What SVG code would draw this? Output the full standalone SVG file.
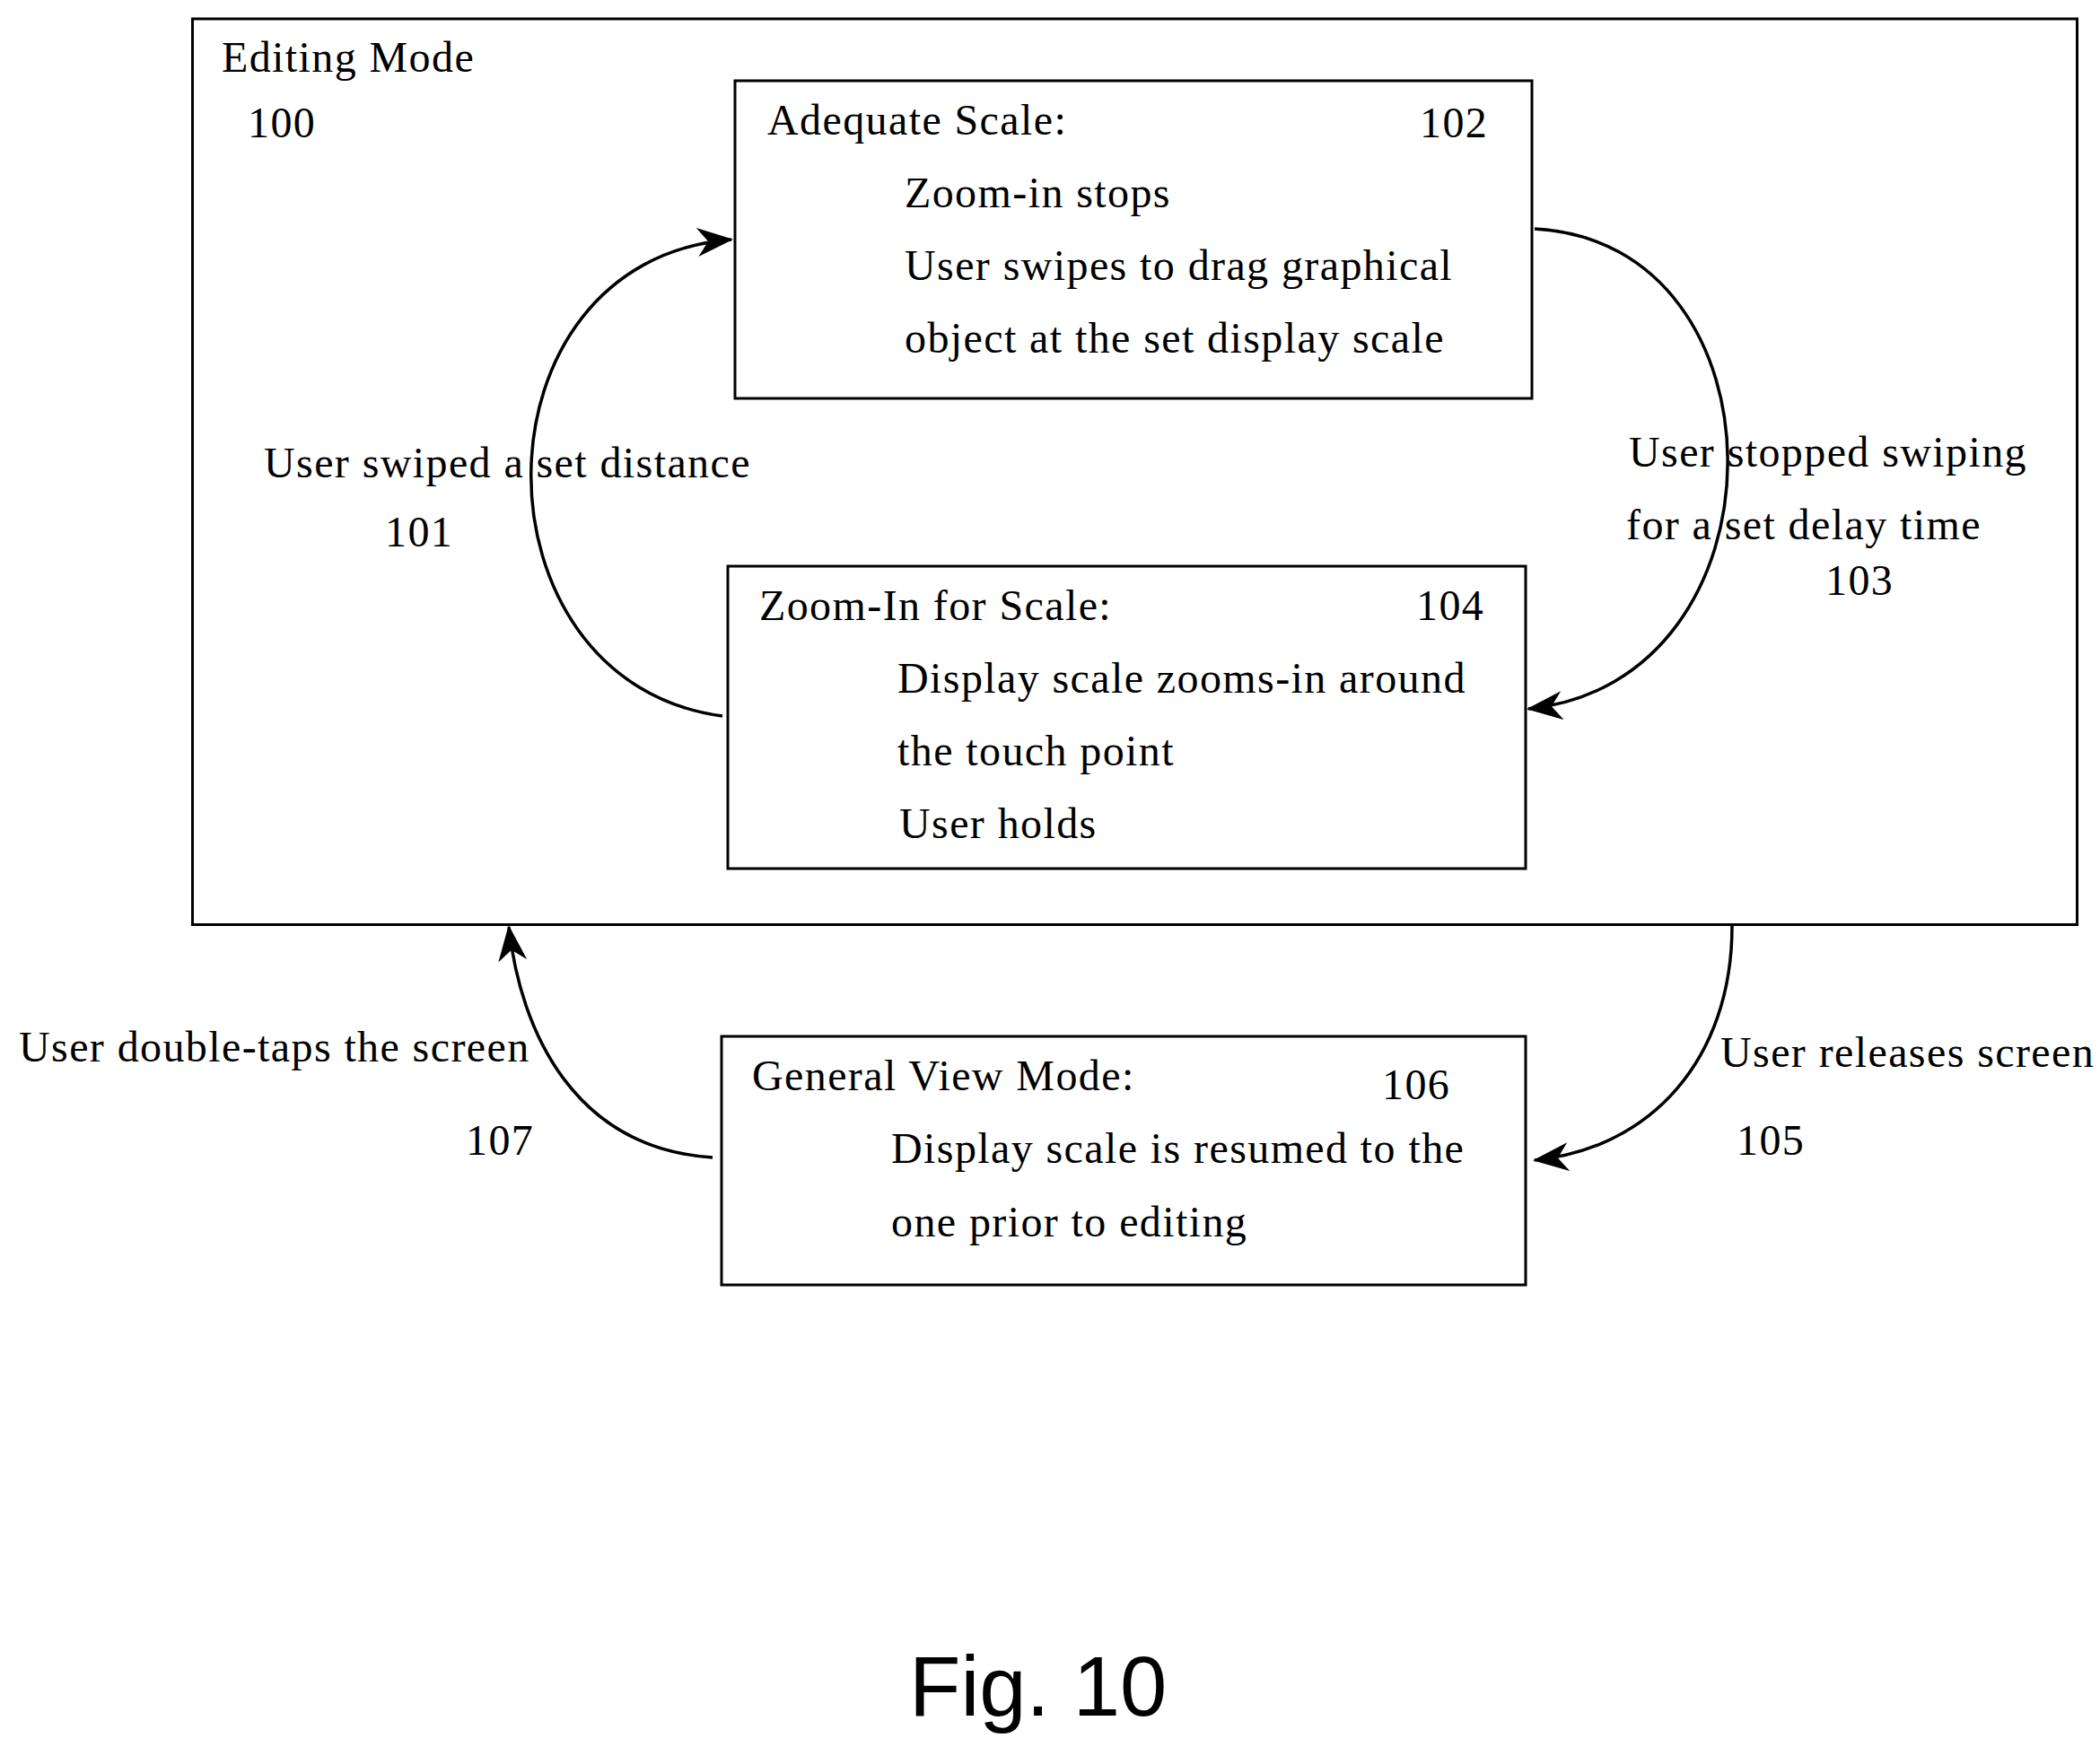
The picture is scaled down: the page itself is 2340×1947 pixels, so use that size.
<svg xmlns="http://www.w3.org/2000/svg" width="2340" height="1947" viewBox="0 0 2340 1947">
<style>
.b{fill:none;stroke:#000;stroke-width:3}
text{font-family:"Liberation Serif","Times New Roman",serif;font-size:48px;letter-spacing:1.4px;fill:#000}
.c{fill:none;stroke:#000;stroke-width:3.5}
</style>
<defs>
<marker id="a" viewBox="0 0 40 32" refX="38" refY="16" markerWidth="40" markerHeight="32" markerUnits="userSpaceOnUse" orient="auto">
<path d="M0,0 L40,16 L0,32 L12,16 Z" fill="#000"/>
</marker>
</defs>
<rect width="2340" height="1947" fill="#fff"/>
<g id="n100">
<rect class="b" x="214.5" y="21" width="2100" height="1009.5"/>
<text x="247" y="80">Editing Mode</text>
<text x="276" y="153">100</text>
</g>
<g id="n102">
<rect class="b" x="819" y="90" width="888" height="354"/>
<text x="855" y="150">Adequate Scale:</text>
<text x="1582" y="153">102</text>
<text x="1008" y="231">Zoom-in stops</text>
<text x="1008" y="312">User swipes to drag graphical</text>
<text x="1008" y="393">object at the set display scale</text>
</g>
<g id="n104">
<rect class="b" x="811" y="631" width="889" height="337"/>
<text x="846" y="691">Zoom-In for Scale:</text>
<text x="1578" y="691">104</text>
<text x="1000" y="772">Display scale zooms-in around</text>
<text x="1000" y="853">the touch point</text>
<text x="1002" y="934">User holds</text>
</g>
<g id="n106">
<rect class="b" x="804" y="1155" width="896" height="277"/>
<text x="838" y="1215">General View Mode:</text>
<text x="1540" y="1225">106</text>
<text x="993" y="1296">Display scale is resumed to the</text>
<text x="993" y="1378">one prior to editing</text>
</g>
<g id="connectors">
<path class="c" d="M805,798 C519,760 519,290 815,267" marker-end="url(#a)"/>
<path class="c" d="M1710,255 C1998,270 1998,760 1703,790" marker-end="url(#a)"/>
<path class="c" d="M794,1290 C640,1280 580,1150 567,1033" marker-end="url(#a)"/>
<path class="c" d="M1930,1032 C1930,1180 1840,1280 1710,1293" marker-end="url(#a)"/>
</g>
<g id="labels">
<text x="294" y="532">User swiped a set distance</text>
<text x="429" y="609">101</text>
<text x="1815" y="520">User stopped swiping</text>
<text x="1812" y="601">for a set delay time</text>
<text x="2034" y="663">103</text>
<text x="21" y="1183">User double-taps the screen</text>
<text x="519" y="1287">107</text>
<text x="1917" y="1189">User releases screen</text>
<text x="1935" y="1287">105</text>
<text x="1013" y="1912" style="font-family:'Liberation Sans',Arial,sans-serif;font-size:94px;letter-spacing:0">Fig. 10</text>
</g>
</svg>
